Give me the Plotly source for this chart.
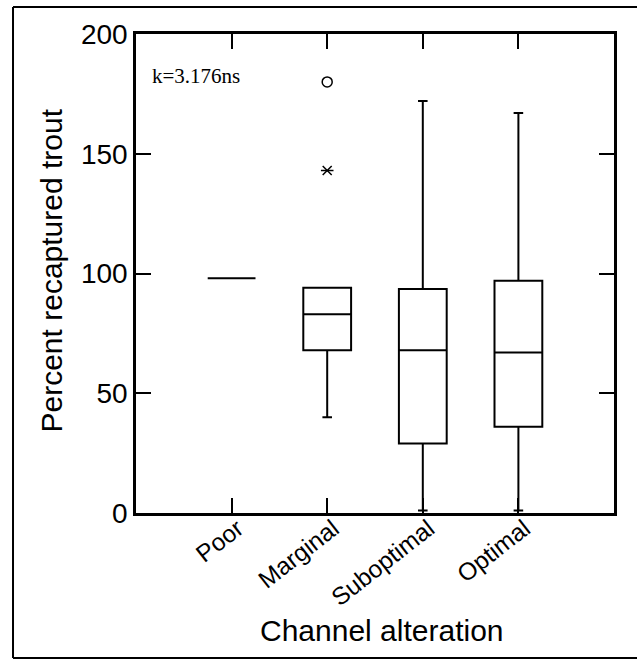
import plotly.graph_objects as go

# Channel alteration classes and the box-plot summary of recapture percentages
categories = ["Poor", "Marginal", "Suboptimal", "Optimal"]
lower_fence = [98, 40, 1, 1]
q1 = [98, 68, 29, 36]
median = [98, 83, 68, 67]
q3 = [98, 94, 93.5, 97]
upper_fence = [98, 94, 172, 167]

# Values beyond the fences (Marginal class)
outlier_cat = ["Marginal"]
outlier_circle = [180]
outlier_far = [143]

y_ticks = [0, 50, 100, 150, 200]
stat_label = "k=3.176ns"

SANS = "Liberation Sans, Arial, sans-serif"
SERIF = "Liberation Serif, Times New Roman, serif"

fig = go.Figure()

fig.add_trace(go.Box(
    x=categories,
    q1=q1, median=median, q3=q3,
    lowerfence=lower_fence, upperfence=upper_fence,
    boxpoints=False,
    width=0.5,
    whiskerwidth=0.2,
    line=dict(color="black", width=2),
    fillcolor="rgba(255,255,255,0)",
    showlegend=False,
    hoverinfo="skip",
))

# Mild outlier: open circle
fig.add_trace(go.Scatter(
    x=outlier_cat, y=outlier_circle, mode="markers",
    marker=dict(symbol="circle-open", size=10, color="black",
                line=dict(width=1.5, color="black")),
    showlegend=False, hoverinfo="skip",
))
# Extreme outlier: six-armed star built from an x and a horizontal bar
for sym in ["x-thin-open", "line-ew-open"]:
    fig.add_trace(go.Scatter(
        x=outlier_cat, y=outlier_far, mode="markers",
        marker=dict(symbol=sym, size=9, color="black",
                    line=dict(width=1.5, color="black")),
        showlegend=False, hoverinfo="skip",
    ))

# Outer frame: left, top and bottom edges only
x_left, x_right, y_bot, y_top = -0.2573, 1.2, -0.3027, 1.0564
frame_line = dict(color="black", width=2)
frame = [
    dict(type="line", xref="paper", yref="paper",
         x0=x_left, x1=x_left, y0=y_bot, y1=y_top, line=frame_line),
    dict(type="line", xref="paper", yref="paper",
         x0=x_left, x1=x_right, y0=y_top, y1=y_top, line=frame_line),
    dict(type="line", xref="paper", yref="paper",
         x0=x_left, x1=x_right, y0=y_bot, y1=y_bot, line=frame_line),
]

fig.update_layout(
    width=637, height=660,
    margin=dict(l=136, r=23, t=34, b=147),
    paper_bgcolor="white", plot_bgcolor="white",
    font=dict(family=SANS, color="black"),
    xaxis=dict(
        type="category", categoryorder="array", categoryarray=categories,
        range=[-1, 4],
        showline=True, linecolor="black", linewidth=2.5, mirror="ticks",
        ticks="inside", ticklen=15, tickwidth=1.5, tickcolor="black",
        tickangle=-38, tickfont=dict(size=24.5, family=SANS),
        ticklabelstandoff=-11, ticklabelshift=6,
        showgrid=False, zeroline=False, fixedrange=True,
    ),
    yaxis=dict(
        range=[0, 200], tickvals=y_ticks,
        showline=True, linecolor="black", linewidth=2.5, mirror="ticks",
        ticks="inside", ticklen=15, tickwidth=1.5, tickcolor="black",
        tickfont=dict(size=28, family=SANS),
        showgrid=False, zeroline=False, fixedrange=True,
    ),
    shapes=frame,
    annotations=[
        dict(text="Percent recaptured trout", xref="paper", yref="paper",
             x=-0.176, y=0.506, xanchor="center", yanchor="middle",
             textangle=-90, showarrow=False,
             font=dict(size=30, family=SANS, color="black")),
        dict(text="Channel alteration", xref="paper", yref="paper",
             x=0.5136, y=-0.246, xanchor="center", yanchor="middle",
             showarrow=False,
             font=dict(size=30, family=SANS, color="black")),
        dict(text=stat_label, xref="paper", yref="paper",
             x=0.03, y=0.912, xanchor="left", yanchor="middle",
             showarrow=False,
             font=dict(size=21, family=SERIF, color="black")),
    ],
)

fig.write_html("out.html")
